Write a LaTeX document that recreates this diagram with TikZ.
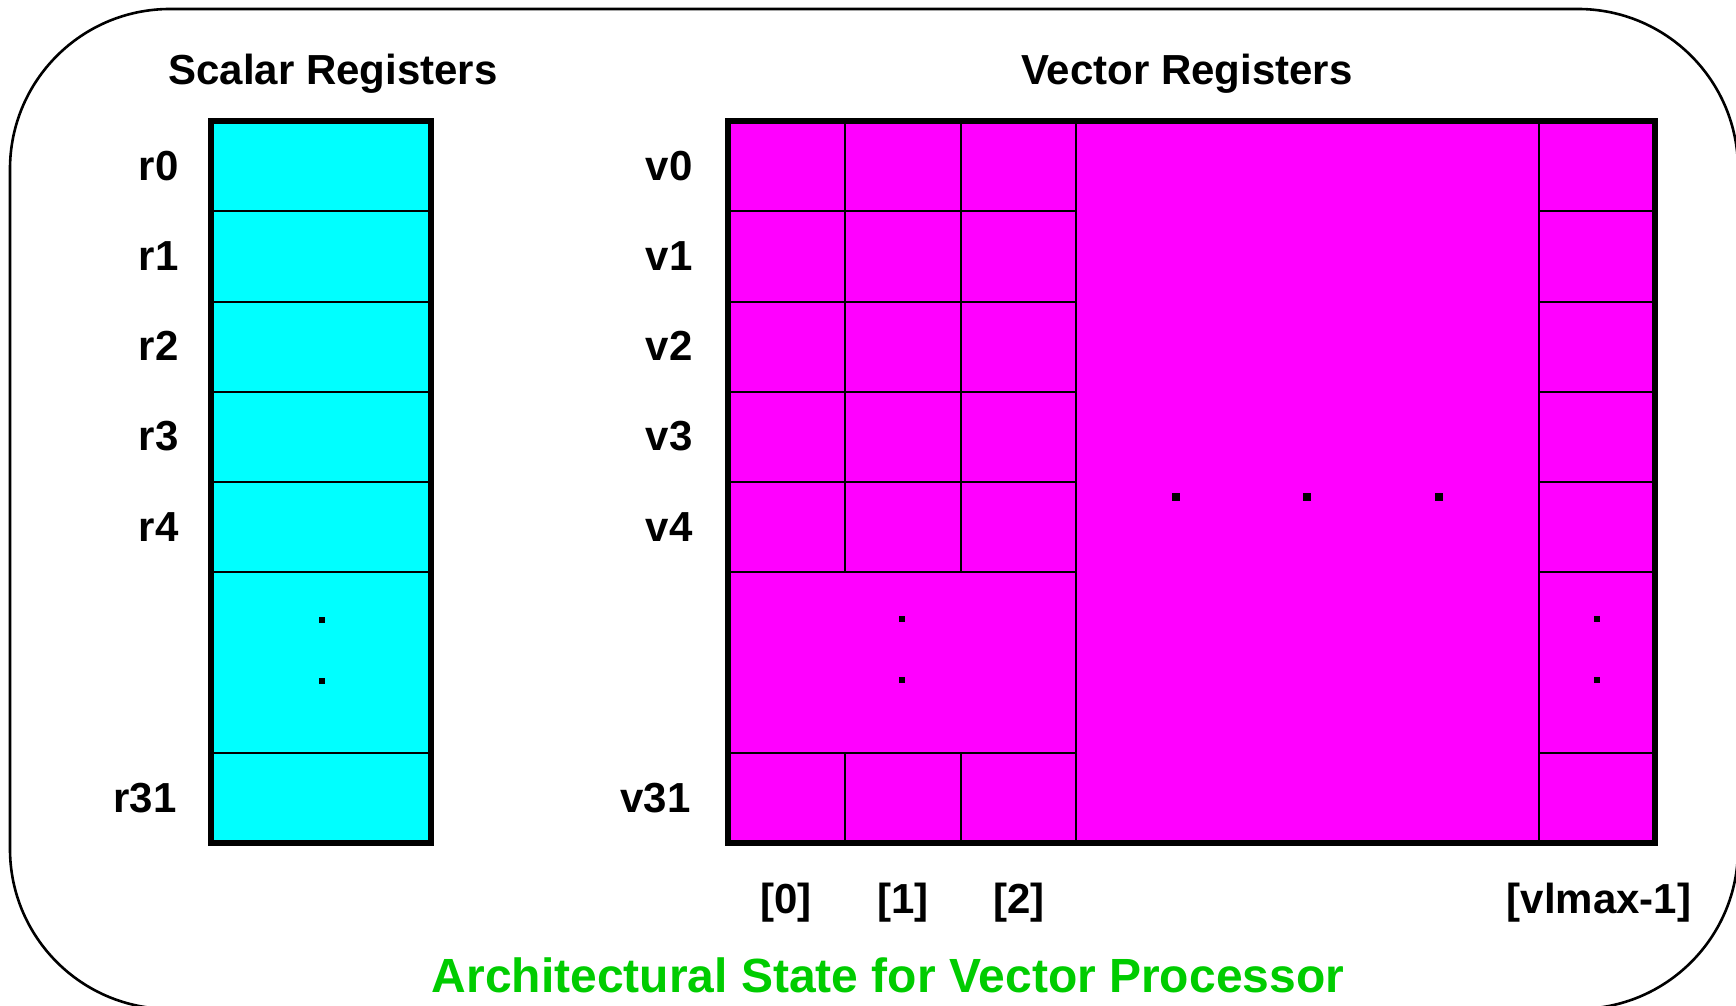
\documentclass[tikz,border=0pt]{standalone}
\usepackage{fontspec}
\setmainfont{Liberation Sans}
\definecolor{regcyan}{RGB}{0,255,255}
\definecolor{regmagenta}{RGB}{255,0,255}
\definecolor{capgreen}{RGB}{0,204,0}
\begin{document}
\begin{tikzpicture}[x=0.5pt,y=-0.5pt,
  gridline/.style={line width=1pt},
  frame/.style={line width=2.8pt},
  lbl/.style={inner sep=0pt,font=\fontsize{21}{25}\selectfont\bfseries},
  rowlbl/.style={lbl,anchor=base east},
  collbl/.style={lbl,anchor=base},
  dotmark/.style={fill=black,minimum size=3pt,inner sep=0pt,draw=none}
]
\useasboundingbox (0,0) rectangle (1736,1006);
\fill[white] (0,0) rectangle (1736,1006);

% outer rounded frame
\draw[line width=1.3pt,rounded corners=80pt] (10,9) rectangle (1738,1009);

% ---- scalar register file ----
\fill[regcyan] (211,121) rectangle (431,843);
\foreach \k in {1,2,3,4,5,7}
  \draw[gridline] (211,{121+\k*90.25}) -- (431,{121+\k*90.25});
\draw[frame] (211,121) rectangle (431,843);
\node[dotmark] (sd1) at (322,620) {};
\node[dotmark] (sd2) at (322,681) {};

% ---- vector register file ----
\fill[regmagenta] (728,121) rectangle (1655,843);
% element columns [0],[1],[2]
\foreach \k in {1,2,3,4,5,7}
  \draw[gridline] (728,{121+\k*90.25}) -- (1076,{121+\k*90.25});
\foreach \x in {845,961} {
  \draw[gridline] (\x,121) -- (\x,572.25);
  \draw[gridline] (\x,752.75) -- (\x,843);
}
\draw[gridline] (1076,121) -- (1076,843);
% last element column
\draw[gridline] (1539,121) -- (1539,843);
\foreach \k in {1,2,3,4,5,7}
  \draw[gridline] (1539,{121+\k*90.25}) -- (1655,{121+\k*90.25});
\draw[frame] (728,121) rectangle (1655,843);

% ellipsis dots
\node[dotmark] (vd1) at (902,619) {};
\node[dotmark] (vd2) at (902,680) {};
\node[dotmark] (ld1) at (1597,619) {};
\node[dotmark] (ld2) at (1597,680) {};
\node[dotmark,minimum size=4pt] (md1) at (1176,497) {};
\node[dotmark,minimum size=4pt] (md2) at (1307,497) {};
\node[dotmark,minimum size=4pt] (md3) at (1439,497) {};

% titles
\node[collbl] (stitle) at (333,85) {Scalar Registers};
\node[collbl] (vtitle) at (1187,85) {Vector Registers};

% register names
\node[rowlbl] (r0) at (179,180.1) {r0};
\node[rowlbl] (r1) at (179,270.4) {r1};
\node[rowlbl] (r2) at (179,360.6) {r2};
\node[rowlbl] (r3) at (179,450.9) {r3};
\node[rowlbl] (r4) at (179,541.1) {r4};
\node[rowlbl] (r31) at (177,812.9) {r31};
\node[rowlbl] (v0) at (693,180.1) {v0};
\node[rowlbl] (v1) at (693,270.4) {v1};
\node[rowlbl] (v2) at (693,360.6) {v2};
\node[rowlbl] (v3) at (693,450.9) {v3};
\node[rowlbl] (v4) at (693,541.1) {v4};
\node[rowlbl] (v31) at (691,812.9) {v31};

% element indices
\node[collbl] (e0) at (786,913) {[0]};
\node[collbl] (e1) at (903,913) {[1]};
\node[collbl] (e2) at (1019,913) {[2]};
\node[collbl] (elast) at (1599,913) {[vlmax-1]};

% caption
\node[inner sep=0pt,anchor=base,text=capgreen,font=\fontsize{24}{28}\selectfont\bfseries]
  (caption) at (888,992) {Architectural State for Vector Processor};
\end{tikzpicture}
\end{document}
